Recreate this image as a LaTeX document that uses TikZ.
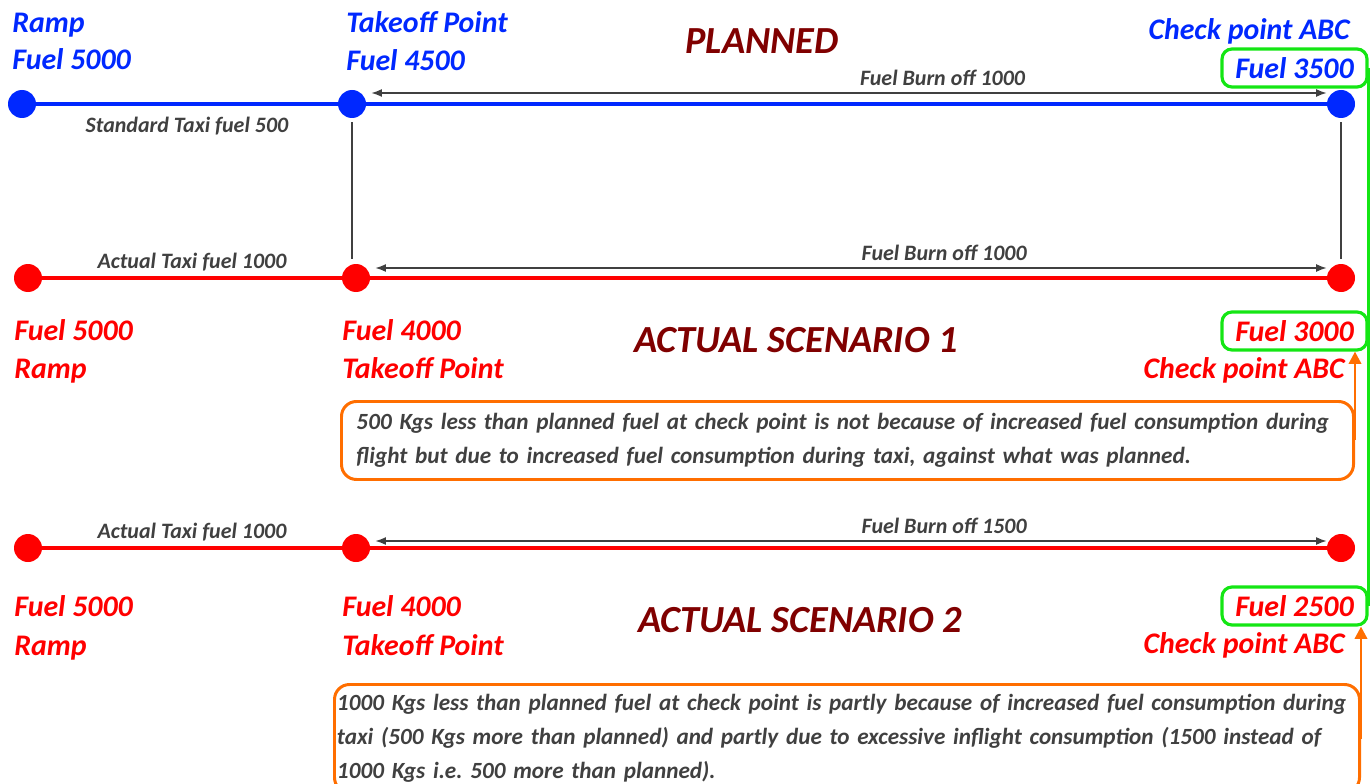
\documentclass[tikz,border=0pt]{standalone}
\usepackage{fontspec}
\setmainfont{Carlito}
\frenchspacing
\hyphenpenalty=10000
\usetikzlibrary{arrows.meta,positioning}

\definecolor{planblue}{RGB}{0,40,255}
\definecolor{actred}{RGB}{255,0,0}
\definecolor{titlered}{RGB}{128,0,0}
\definecolor{notegray}{RGB}{64,64,64}
\definecolor{boxgreen}{RGB}{20,230,20}
\definecolor{noteorange}{RGB}{255,110,0}

\tikzset{
  bdot/.style={circle, fill=planblue, minimum size=0.56cm, inner sep=0pt},
  rdot/.style={circle, fill=actred, minimum size=0.56cm, inner sep=0pt},
  bline/.style={planblue, line width=2.3pt},
  rline/.style={actred, line width=2.3pt},
  burn/.style={{Latex[length=6pt,width=4.5pt]}-{Latex[length=6pt,width=4.5pt]}, notegray, line width=0.8pt},
  small/.style={font=\fontsize{12.5}{14}\selectfont\bfseries\itshape, text=notegray},
  big/.style={font=\fontsize{17}{20}\selectfont\bfseries\itshape, inner sep=0pt},
  title/.style={font=\fontsize{21.8}{24}\selectfont\bfseries\itshape, text=titlered, inner sep=0pt, anchor=base},
  fuelbox/.style={big, draw=boxgreen, line width=1.8pt, rounded corners=0.2cm, minimum width=2.9cm, minimum height=0.76cm},
  note/.style={draw=noteorange, line width=1.7pt, rounded corners=0.3cm, align=left, anchor=north west, text=notegray, font=\fontsize{13.2}{19.3}\selectfont\bfseries\itshape},
  link/.style={-{Triangle[length=7pt,width=7pt]}, noteorange, line width=1.5pt}
}

\begin{document}
\begin{tikzpicture}
  \useasboundingbox (0,0) rectangle (27.4,-15.68);

  % planned
  \node[bdot] (pR) at (0.44,-2.08) {};
  \node[bdot] (pT) at (7.04,-2.08) {};
  \node[bdot] (pC) at (26.82,-2.08) {};
  \node[big, text=planblue, anchor=base west] (pRt) at (0.24,-0.66) {Ramp};
  \node[big, text=planblue, anchor=base west] (pRf) at (0.24,-1.40) {Fuel 5000};
  \node[big, text=planblue, anchor=base west] (pTt) at (6.92,-0.66) {Takeoff Point};
  \node[big, text=planblue, anchor=base west] (pTf) at (6.92,-1.42) {Fuel 4500};
  \node[big, text=planblue, anchor=base east] (pCt) at (27.0,-0.80) {Check point ABC};
  \node[fuelbox, text=planblue] (f1) at (25.89,-1.36) {Fuel 3500};
  \node[title] (plan) at (15.24,-1.08) {PLANNED};

  \draw[bline] (pR) -- node[small, yshift=-0.44cm] {Standard Taxi fuel 500} (pT) -- (pC);
  \draw[burn, shorten <=0.1cm] ([yshift=0.22cm]pT.east) -- node[small, pos=0.6, yshift=0.3cm] {Fuel Burn off 1000} ([yshift=0.22cm]pC.west);

  % actual scenario 1
  \node[rdot] (aR) at (0.56,-5.56) {};
  \node[rdot] (aT) at (7.12,-5.56) {};
  \node[rdot] (aC) at (26.82,-5.56) {};
  \node[big, text=actred, anchor=base west] (aRf) at (0.28,-6.80) {Fuel 5000};
  \node[big, text=actred, anchor=base west] (aRt) at (0.28,-7.56) {Ramp};
  \node[big, text=actred, anchor=base west] (aTf) at (6.84,-6.80) {Fuel 4000};
  \node[big, text=actred, anchor=base west] (aTt) at (6.84,-7.56) {Takeoff Point};
  \node[big, text=actred, anchor=base east] (aCt) at (26.9,-7.56) {Check point ABC};
  \node[fuelbox, text=actred] (f2) at (25.89,-6.62) {Fuel 3000};
  \node[title] (act1) at (15.92,-7.04) {ACTUAL SCENARIO 1};

  \draw[rline] (aR) -- node[small, yshift=0.32cm] {Actual Taxi fuel 1000} (aT) -- (aC);
  \draw[burn, shorten <=0.1cm] ([yshift=0.2cm]aT.east) -- node[small, pos=0.6, yshift=0.3cm] {Fuel Burn off 1000} ([yshift=0.2cm]aC.west);
  \draw[notegray, line width=1.3pt, shorten <=0.08cm, shorten >=0.1cm] (pT.south) -- (pT.south |- aT.north);
  \draw[notegray, line width=1.3pt, shorten <=0.08cm, shorten >=0.1cm] (pC.south) -- (aC.north);

  \node[note, text width=19.64cm, inner xsep=0.3cm, minimum height=1.56cm] (n1) at (6.80,-8.00)
    {500 Kgs less than planned fuel at check point is not because of increased fuel consumption during\\
     flight but due to increased fuel consumption during taxi, against what was planned.};

  % actual scenario 2
  \node[rdot] (bR) at (0.56,-10.96) {};
  \node[rdot] (bT) at (7.12,-10.96) {};
  \node[rdot] (bC) at (26.82,-10.96) {};
  \node[big, text=actred, anchor=base west] (bRf) at (0.28,-12.32) {Fuel 5000};
  \node[big, text=actred, anchor=base west] (bRt) at (0.28,-13.10) {Ramp};
  \node[big, text=actred, anchor=base west] (bTf) at (6.84,-12.32) {Fuel 4000};
  \node[big, text=actred, anchor=base west] (bTt) at (6.84,-13.10) {Takeoff Point};
  \node[big, text=actred, anchor=base east] (bCt) at (26.9,-13.06) {Check point ABC};
  \node[fuelbox, text=actred] (f3) at (25.89,-12.12) {Fuel 2500};
  \node[title] (act2) at (16.0,-12.64) {ACTUAL SCENARIO 2};

  \draw[rline] (bR) -- node[small, yshift=0.32cm] {Actual Taxi fuel 1000} (bT) -- (bC);
  \draw[burn, shorten <=0.1cm] ([yshift=0.14cm]bT.east) -- node[small, pos=0.6, yshift=0.3cm] {Fuel Burn off 1500} ([yshift=0.14cm]bC.west);

  \node[note, text width=20.4cm, inner xsep=0.05cm, minimum height=2.16cm] (n2) at (6.66,-13.66)
    {1000 Kgs less than planned fuel at check point is partly because of increased fuel consumption during\\
     taxi (500 Kgs more than planned) and partly due to excessive inflight consumption (1500 instead of\\
     1000 Kgs i.e. 500 more than planned).};

  % links
  \draw[boxgreen, line width=1.8pt] (f1.east) -- (f3.east);
  \draw[link] (n1.east) -- (n1.east |- f2.south);
  \draw[link] (n2.east) -- (n2.east |- f3.south);
\end{tikzpicture}
\end{document}
